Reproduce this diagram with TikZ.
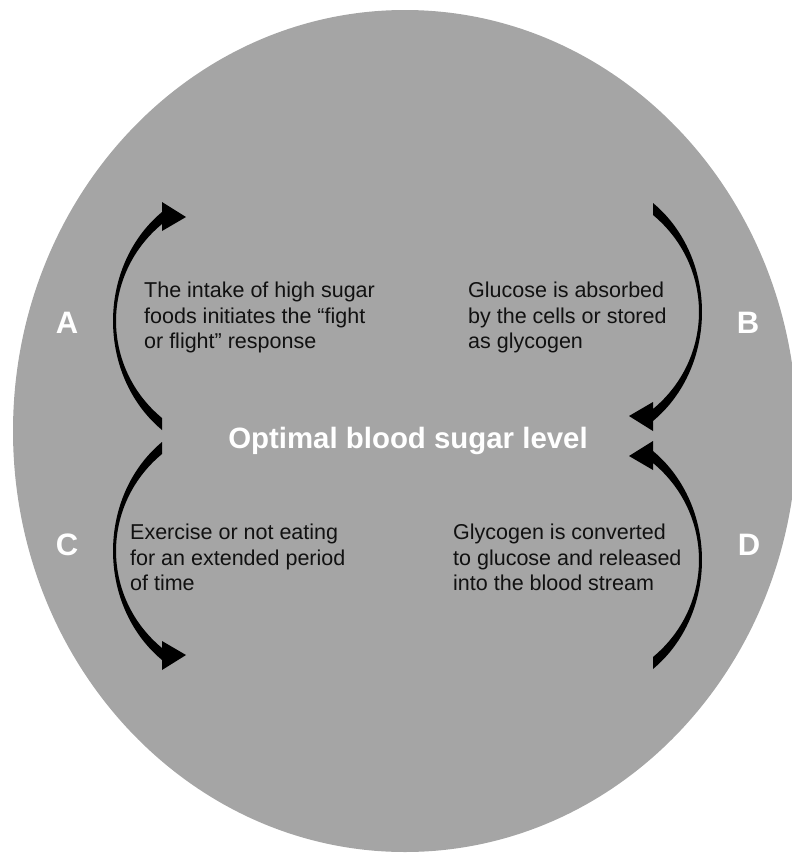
\documentclass[tikz,border=0pt]{standalone}
\usepackage{fontspec}
\setmainfont{Liberation Sans}
\usepackage{xcolor}
\usepackage{tikz}
\usetikzlibrary{positioning,calc}
\definecolor{ink}{HTML}{000000}
\definecolor{disc}{HTML}{A5A5A5}
\definecolor{words}{HTML}{111111}
\tikzset{
  blurb/.style={align=left, anchor=north west, inner sep=0pt, text=words, font=\fontsize{21.5}{25.5}\selectfont},
  headline/.style={anchor=base, inner sep=0pt, text=white, font=\fontsize{29.4}{34}\selectfont\bfseries},
  tag/.style={anchor=base, inner sep=0pt, text=white, font=\fontsize{31}{36}\selectfont\bfseries},
  swing/.pic={
    \fill[ink] (162,430) -- (162,418)
      .. controls (100.7,367) and (100.7,275) .. (162,224)
      -- (162,231) -- (186,217) -- (162,202) -- (162,212)
      .. controls (96.7,266.5) and (96.7,375.5) .. (162,430) -- cycle;
  }
}

\begin{document}
\begin{tikzpicture}[x=1pt, y=-1pt]
  \clip (0,0) rectangle (792,862);
  \fill[disc] (405,431) ellipse [x radius=392, y radius=421];

  % the four loops
  \pic at (0,0) {swing};
  \pic[shift={(815,633)}, scale=-1] at (0,0) {swing};
  \pic[shift={(0,872)}, yscale=-1] at (0,0) {swing};
  \pic[shift={(815,239)}, xscale=-1] at (0,0) {swing};

  \node[headline] (optimal) at (408,448) {Optimal blood sugar level};

  \node[blurb] (intake) at (144,282) {The intake of high sugar\\foods initiates the “fight\\or flight” response};
  \node[blurb] (absorb) at (468,282) {Glucose is absorbed\\by the cells or stored\\as glycogen};
  \node[blurb] (exercise) at (130,524) {Exercise or not eating\\for an extended period\\of time};
  \node[blurb] (release) at (453,524) {Glycogen is converted\\to glucose and released\\into the blood stream};

  \node[tag] (tagA) at (67,333) {A};
  \node[tag] (tagB) at (748,333) {B};
  \node[tag] (tagC) at (67,555) {C};
  \node[tag] (tagD) at (749,555) {D};
\end{tikzpicture}
\end{document}
